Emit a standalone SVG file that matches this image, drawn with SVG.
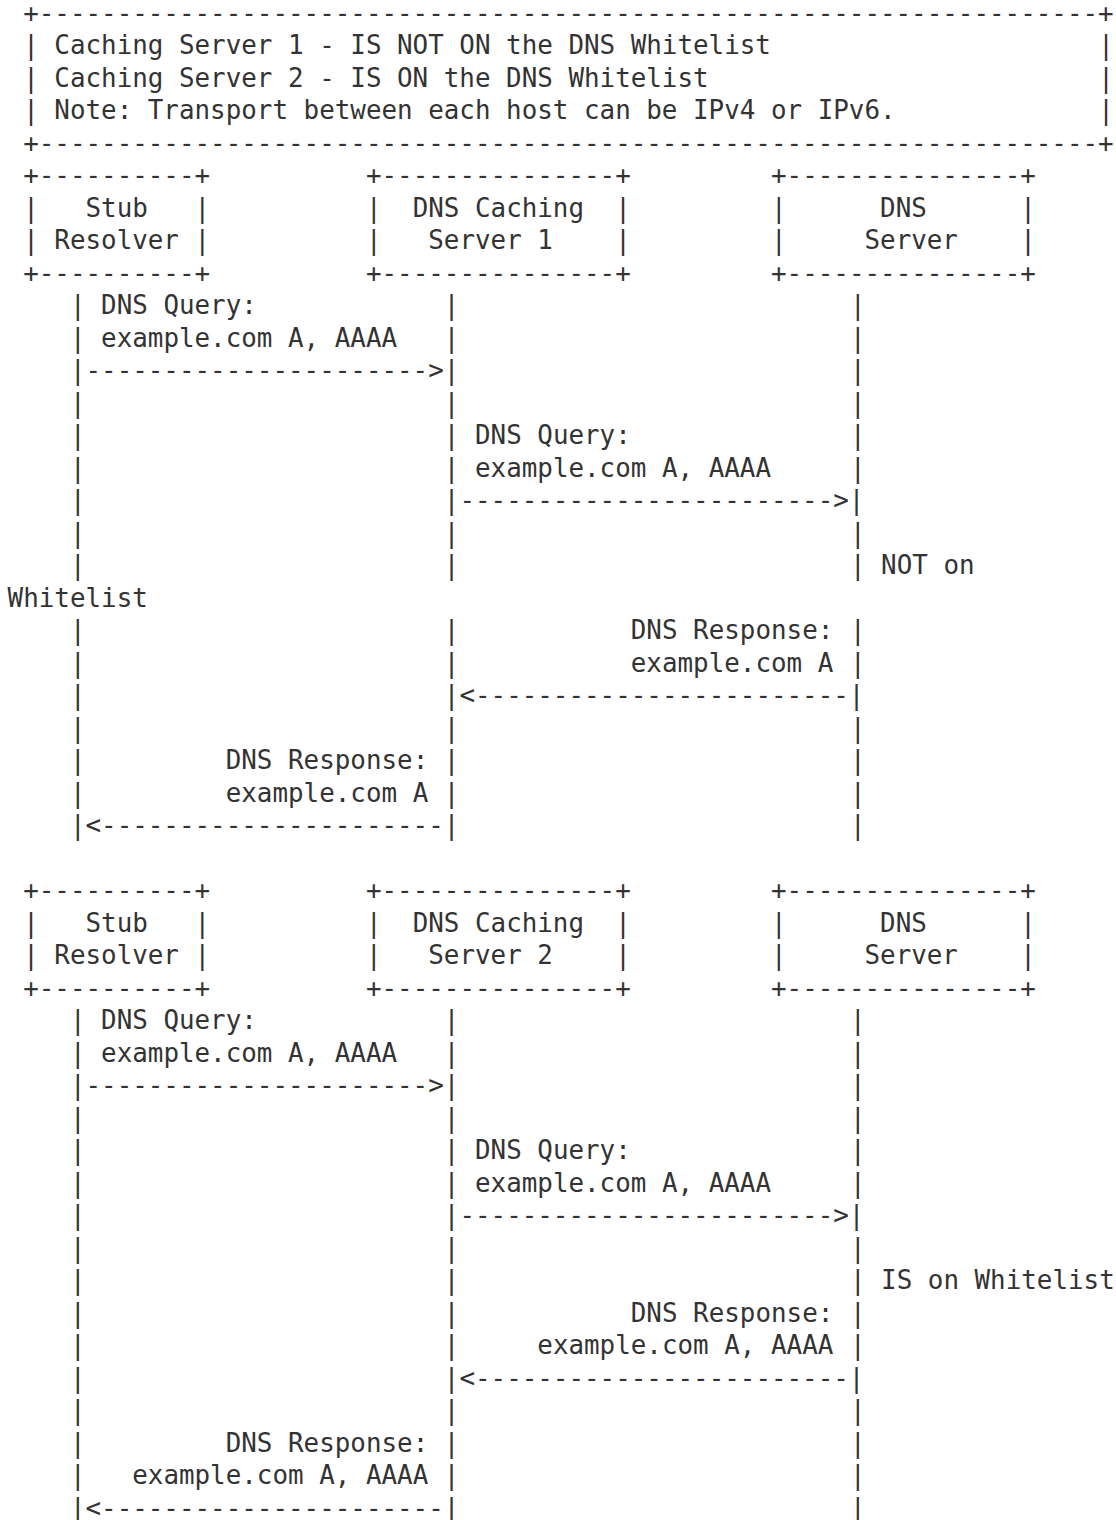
<svg xmlns="http://www.w3.org/2000/svg" width="1116" height="1520" viewBox="0 0 1116 1520" xml:space="preserve">
<style>
text { font-family: "DejaVu Sans Mono", "Liberation Mono", monospace; font-size: 25.88px; fill: #333333; white-space: pre; }
</style>
<rect x="0" y="0" width="1116" height="1520" fill="#ffffff"/>
<g id="legend">
<text x="23.18" y="21.5">+--------------------------------------------------------------------+</text>
<text x="23.18" y="54">| Caching Server 1 - IS NOT ON the DNS Whitelist</text>
<text x="23.18" y="86.5">| Caching Server 2 - IS ON the DNS Whitelist</text>
<text x="23.18" y="119">| Note: Transport between each host can be IPv4 or IPv6.</text>
<text x="1098.2" y="54">|</text>
<text x="1098.2" y="86.5">|</text>
<text x="1098.2" y="119">|</text>
<text x="23.18" y="151.5">+--------------------------------------------------------------------+</text>
</g>
<g id="stub-resolver-1">
<text x="23.18" y="184">+----------+</text>
<text x="23.18" y="216.5">|   Stub   |</text>
<text x="23.18" y="249">| Resolver |</text>
<text x="23.18" y="281.5">+----------+</text>
</g>
<g id="caching-server-1">
<text x="365.94" y="184">+---------------+</text>
<text x="365.94" y="216.5">|  DNS Caching  |</text>
<text x="365.94" y="249">|   Server 1    |</text>
<text x="365.94" y="281.5">+---------------+</text>
</g>
<g id="dns-server-1">
<text x="771.02" y="184">+---------------+</text>
<text x="771.02" y="216.5">|      DNS      |</text>
<text x="771.02" y="249">|     Server    |</text>
<text x="771.02" y="281.5">+---------------+</text>
</g>
<g id="stub-resolver-2">
<text x="23.18" y="899">+----------+</text>
<text x="23.18" y="931.5">|   Stub   |</text>
<text x="23.18" y="964">| Resolver |</text>
<text x="23.18" y="996.5">+----------+</text>
</g>
<g id="caching-server-2">
<text x="365.94" y="899">+---------------+</text>
<text x="365.94" y="931.5">|  DNS Caching  |</text>
<text x="365.94" y="964">|   Server 2    |</text>
<text x="365.94" y="996.5">+---------------+</text>
</g>
<g id="dns-server-2">
<text x="771.02" y="899">+---------------+</text>
<text x="771.02" y="931.5">|      DNS      |</text>
<text x="771.02" y="964">|     Server    |</text>
<text x="771.02" y="996.5">+---------------+</text>
</g>
<g id="connectors">
<g id="lifeline-stub-1">
<text x="69.92" y="314">|</text><text x="69.92" y="346.5">|</text><text x="69.92" y="411.5">|</text><text x="69.92" y="444">|</text><text x="69.92" y="476.5">|</text><text x="69.92" y="509">|</text><text x="69.92" y="541.5">|</text><text x="69.92" y="574">|</text><text x="69.92" y="639">|</text><text x="69.92" y="671.5">|</text><text x="69.92" y="704">|</text><text x="69.92" y="736.5">|</text><text x="69.92" y="769">|</text><text x="69.92" y="801.5">|</text>
</g>
<g id="lifeline-caching-1">
<text x="443.84" y="314">|</text><text x="443.84" y="346.5">|</text><text x="443.84" y="411.5">|</text><text x="443.84" y="444">|</text><text x="443.84" y="476.5">|</text><text x="443.84" y="541.5">|</text><text x="443.84" y="574">|</text><text x="443.84" y="639">|</text><text x="443.84" y="671.5">|</text><text x="443.84" y="736.5">|</text><text x="443.84" y="769">|</text><text x="443.84" y="801.5">|</text>
</g>
<g id="lifeline-dns-1">
<text x="849.92" y="314">|</text><text x="849.92" y="346.5">|</text><text x="849.92" y="379">|</text><text x="849.92" y="411.5">|</text><text x="849.92" y="444">|</text><text x="849.92" y="476.5">|</text><text x="849.92" y="541.5">|</text><text x="849.92" y="574">|</text><text x="849.92" y="639">|</text><text x="849.92" y="671.5">|</text><text x="849.92" y="736.5">|</text><text x="849.92" y="769">|</text><text x="849.92" y="801.5">|</text><text x="849.92" y="834">|</text>
</g>
<text x="69.92" y="379">|---------------------->|</text>
<text x="443.84" y="509">|------------------------>|</text>
<text x="443.84" y="704">|&lt;------------------------|</text>
<text x="69.92" y="834">|&lt;----------------------|</text>

<g id="lifeline-stub-2">
<text x="69.92" y="1029">|</text><text x="69.92" y="1061.5">|</text><text x="69.92" y="1126.5">|</text><text x="69.92" y="1159">|</text><text x="69.92" y="1191.5">|</text><text x="69.92" y="1224">|</text><text x="69.92" y="1256.5">|</text><text x="69.92" y="1289">|</text><text x="69.92" y="1321.5">|</text><text x="69.92" y="1354">|</text><text x="69.92" y="1386.5">|</text><text x="69.92" y="1419">|</text><text x="69.92" y="1451.5">|</text><text x="69.92" y="1484">|</text>
</g>
<g id="lifeline-caching-2">
<text x="443.84" y="1029">|</text><text x="443.84" y="1061.5">|</text><text x="443.84" y="1126.5">|</text><text x="443.84" y="1159">|</text><text x="443.84" y="1191.5">|</text><text x="443.84" y="1256.5">|</text><text x="443.84" y="1289">|</text><text x="443.84" y="1321.5">|</text><text x="443.84" y="1354">|</text><text x="443.84" y="1419">|</text><text x="443.84" y="1451.5">|</text><text x="443.84" y="1484">|</text>
</g>
<g id="lifeline-dns-2">
<text x="849.92" y="1029">|</text><text x="849.92" y="1061.5">|</text><text x="849.92" y="1094">|</text><text x="849.92" y="1126.5">|</text><text x="849.92" y="1159">|</text><text x="849.92" y="1191.5">|</text><text x="849.92" y="1256.5">|</text><text x="849.92" y="1289">|</text><text x="849.92" y="1321.5">|</text><text x="849.92" y="1354">|</text><text x="849.92" y="1419">|</text><text x="849.92" y="1451.5">|</text><text x="849.92" y="1484">|</text><text x="849.92" y="1516.5">|</text>
</g>
<text x="69.92" y="1094">|---------------------->|</text>
<text x="443.84" y="1224">|------------------------>|</text>
<text x="443.84" y="1386.5">|&lt;------------------------|</text>
<text x="69.92" y="1516.5">|&lt;----------------------|</text>
</g>
<g id="labels">
<text x="101.08" y="314">DNS Query:</text>
<text x="101.08" y="346.5">example.com A, AAAA</text>
<text x="475" y="444">DNS Query:</text>
<text x="475" y="476.5">example.com A, AAAA</text>
<text x="881.08" y="574">NOT on</text>
<text x="7.6" y="606.5">Whitelist</text>
<text x="630.8" y="639">DNS Response:</text>
<text x="630.8" y="671.5">example.com A</text>
<text x="225.72" y="769">DNS Response:</text>
<text x="225.72" y="801.5">example.com A</text>

<text x="101.08" y="1029">DNS Query:</text>
<text x="101.08" y="1061.5">example.com A, AAAA</text>
<text x="475" y="1159">DNS Query:</text>
<text x="475" y="1191.5">example.com A, AAAA</text>
<text x="881.08" y="1289">IS on Whitelist</text>
<text x="630.8" y="1321.5">DNS Response:</text>
<text x="537.32" y="1354">example.com A, AAAA</text>
<text x="225.72" y="1451.5">DNS Response:</text>
<text x="132.24" y="1484">example.com A, AAAA</text>
</g>
</svg>
